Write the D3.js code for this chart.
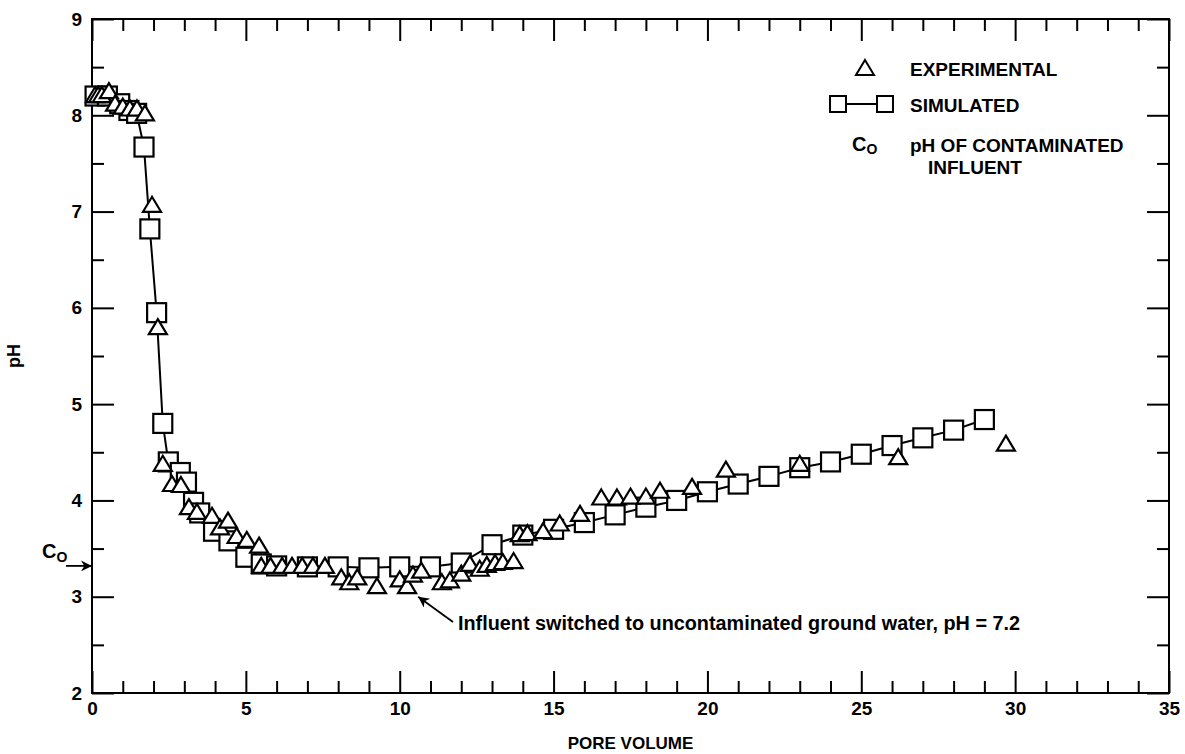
<!DOCTYPE html>
<html>
<head>
<meta charset="utf-8">
<script src="https://cdn.jsdelivr.net/npm/d3@7"></script>
<style>
  html, body { margin: 0; padding: 0; background: #fff; }
  svg { display: block; }
  text { font-family: "Liberation Sans", Arial, Helvetica, sans-serif; fill: #000; }
</style>
</head>
<body>
<svg id="chart" width="1185" height="754"></svg>
<script>
// Simulated pH versus pore volume (connected squares)
const simulatedPV = [0.1, 0.5, 0.9, 1.2, 1.45, 1.69, 1.88, 2.1, 2.3, 2.48, 2.87, 3.07, 3.3, 3.5, 3.95, 4.45, 5.0, 5.5, 6, 7, 8, 9, 10, 11, 12, 13, 14, 15, 16, 17, 18, 19, 20, 21, 22, 23, 24, 25, 26, 27, 28, 29];
const simulatedPH = [8.2, 8.2, 8.12, 8.05, 8.02, 7.67, 6.82, 5.95, 4.8, 4.4, 4.29, 4.19, 3.98, 3.87, 3.68, 3.58, 3.41, 3.34, 3.32, 3.31, 3.31, 3.3, 3.31, 3.31, 3.35, 3.54, 3.64, 3.7, 3.77, 3.85, 3.93, 4.0, 4.09, 4.17, 4.25, 4.34, 4.4, 4.48, 4.57, 4.65, 4.73, 4.84];

// Experimental pH versus pore volume (triangles)
const experimentalPV = [0.1, 0.2, 0.32, 0.55, 0.75, 1.0, 1.23, 1.46, 1.72, 1.95, 2.14, 2.3, 2.6, 2.89, 3.15, 3.41, 3.9, 4.16, 4.42, 4.7, 5.03, 5.43, 5.5, 5.8, 6.18, 6.5, 6.83, 7.18, 7.57, 8.1, 8.36, 8.62, 9.26, 10.0, 10.24, 10.43, 10.7, 11.37, 11.63, 12.0, 12.28, 12.6, 12.83, 13.1, 13.35, 13.7, 13.9, 14.15, 14.66, 15.2, 15.86, 16.55, 17.06, 17.5, 18.0, 18.46, 19.5, 20.6, 23.0, 26.2, 29.7];
const experimentalPH = [8.2, 8.2, 8.2, 8.24, 8.11, 8.08, 8.06, 8.06, 8.01, 7.06, 5.79, 4.37, 4.16, 4.15, 3.92, 3.87, 3.83, 3.71, 3.78, 3.62, 3.58, 3.52, 3.31, 3.31, 3.31, 3.31, 3.31, 3.31, 3.31, 3.19, 3.14, 3.19, 3.1, 3.17, 3.1, 3.22, 3.26, 3.14, 3.16, 3.23, 3.33, 3.28, 3.32, 3.34, 3.35, 3.36, 3.64, 3.65, 3.67, 3.75, 3.85, 4.02, 4.02, 4.03, 4.03, 4.09, 4.13, 4.31, 4.37, 4.44, 4.58];

// pH of contaminated influent
const influentPH = 3.32;
// Where the annotation arrow points (pore volume, pH)
const switchPV = 10.6;
const switchPH = 3.0;

// Axis tick values
const xMajorTicks = [0, 5, 10, 15, 20, 25, 30, 35];
const xMinorTicks = d3.range(0, 36, 1).filter(v => v % 5 !== 0);
const yMajorTicks = [2, 3, 4, 5, 6, 7, 8, 9];
const yMinorTicks = [2.5, 3.5, 4.5, 5.5, 6.5, 7.5, 8.5];

const svg = d3.select("#chart");
const plotLeft = 92, plotRight = 1169, plotTop = 19, plotBottom = 693;

const x = d3.scaleLinear().domain([0, 35]).range([plotLeft, plotRight]);
const y = d3.scaleLinear().domain([2, 9]).range([plotBottom, plotTop]);

const MAJOR = 22, MINOR = 12;
const tickFont = "19px";

function styleAxis(g) {
  g.select(".domain").remove();
  g.selectAll(".tick line").attr("stroke", "#000").attr("stroke-width", 2);
  g.selectAll(".tick text").attr("font-size", tickFont).attr("font-weight", "bold").attr("fill", "#000")
    .style("font-family", '"Liberation Sans", Arial, sans-serif');
}

// Bottom axis: labelled major ticks + minor ticks, pointing inward
svg.append("g").attr("transform", `translate(0,${plotBottom})`)
  .call(d3.axisBottom(x).tickValues(xMajorTicks).tickSize(-MAJOR).tickSizeOuter(0).tickPadding(9).tickFormat(d3.format("d")))
  .call(styleAxis);
svg.append("g").attr("transform", `translate(0,${plotBottom})`)
  .call(d3.axisBottom(x).tickValues(xMinorTicks).tickSize(-MINOR).tickSizeOuter(0).tickFormat(""))
  .call(styleAxis);
// Top axis (mirrored ticks)
svg.append("g").attr("transform", `translate(0,${plotTop})`)
  .call(d3.axisTop(x).tickValues(xMajorTicks).tickSize(-MAJOR).tickSizeOuter(0).tickFormat(""))
  .call(styleAxis);
svg.append("g").attr("transform", `translate(0,${plotTop})`)
  .call(d3.axisTop(x).tickValues(xMinorTicks).tickSize(-MINOR).tickSizeOuter(0).tickFormat(""))
  .call(styleAxis);
// Left axis
svg.append("g").attr("transform", `translate(${plotLeft},0)`)
  .call(d3.axisLeft(y).tickValues(yMajorTicks).tickSize(-MAJOR).tickSizeOuter(0).tickPadding(10).tickFormat(d3.format("d")))
  .call(styleAxis);
svg.append("g").attr("transform", `translate(${plotLeft},0)`)
  .call(d3.axisLeft(y).tickValues(yMinorTicks).tickSize(-MINOR).tickSizeOuter(0).tickFormat(""))
  .call(styleAxis);
// Right axis
svg.append("g").attr("transform", `translate(${plotRight},0)`)
  .call(d3.axisRight(y).tickValues(yMajorTicks).tickSize(-MAJOR).tickSizeOuter(0).tickFormat(""))
  .call(styleAxis);
svg.append("g").attr("transform", `translate(${plotRight},0)`)
  .call(d3.axisRight(y).tickValues(yMinorTicks).tickSize(-MINOR).tickSizeOuter(0).tickFormat(""))
  .call(styleAxis);

// Plot frame
svg.append("rect")
  .attr("x", plotLeft).attr("y", plotTop).attr("width", plotRight - plotLeft).attr("height", plotBottom - plotTop)
  .attr("fill", "none").attr("stroke", "#000").attr("stroke-width", 2);

// Axis titles
svg.append("text")
  .attr("x", (plotLeft + plotRight) / 2).attr("y", 749)
  .attr("text-anchor", "middle").attr("font-size", "17px").attr("font-weight", "bold")
  .text("PORE VOLUME");
svg.append("text")
  .attr("transform", `translate(20,${(plotTop + plotBottom) / 2}) rotate(-90)`)
  .attr("text-anchor", "middle").attr("font-size", "18px").attr("font-weight", "bold")
  .text("pH");

// Arrowhead marker
const defs = svg.append("defs");
defs.append("marker")
  .attr("id", "arrow").attr("viewBox", "0 0 10 10")
  .attr("refX", 10).attr("refY", 5)
  .attr("markerWidth", 13).attr("markerHeight", 11)
  .attr("markerUnits", "userSpaceOnUse")
  .attr("orient", "auto")
  .append("path").attr("d", "M0,0 L10,5 L0,10 L3,5 Z").attr("fill", "#000");

// Simulated curve
const simData = simulatedPV.map((v, i) => ({ v, ph: simulatedPH[i] }));
const expData = experimentalPV.map((v, i) => ({ v, ph: experimentalPH[i] }));

svg.append("path")
  .datum(simData)
  .attr("fill", "none").attr("stroke", "#000").attr("stroke-width", 2)
  .attr("d", d3.line().x(d => x(d.v)).y(d => y(d.ph)));

const SQ = 19;
svg.append("g").selectAll("rect")
  .data(simData).join("rect")
  .attr("x", d => x(d.v) - SQ / 2).attr("y", d => y(d.ph) - SQ / 2)
  .attr("width", SQ).attr("height", SQ)
  .attr("fill", "#fff").attr("stroke", "#000").attr("stroke-width", 2.2);

// Experimental triangles
const triangle = (w, h) => `M0,${-h * 0.6} L${w / 2},${h * 0.4} L${-w / 2},${h * 0.4} Z`;
svg.append("g").selectAll("path")
  .data(expData).join("path")
  .attr("transform", d => `translate(${x(d.v)},${y(d.ph)})`)
  .attr("d", triangle(18, 15))
  .attr("fill", "#fff").attr("stroke", "#000").attr("stroke-width", 2.2)
  .attr("stroke-linejoin", "miter");

// Influent pH marker on the left axis
const coY = y(influentPH);
svg.append("line")
  .attr("x1", 66).attr("y1", coY).attr("x2", plotLeft).attr("y2", coY)
  .attr("stroke", "#000").attr("stroke-width", 1.8).attr("marker-end", "url(#arrow)");
const coLabel = svg.append("text").attr("x", 42).attr("y", coY - 8).attr("font-size", "20px").attr("font-weight", "bold");
coLabel.append("tspan").text("C");
coLabel.append("tspan").attr("font-size", "14px").attr("dy", 4).text("O");

// Annotation for the influent switch
const annX = 458, annY = 630;
svg.append("line")
  .attr("x1", annX - 5).attr("y1", annY - 8)
  .attr("x2", x(switchPV)).attr("y2", y(switchPH))
  .attr("stroke", "#000").attr("stroke-width", 1.8).attr("marker-end", "url(#arrow)");
svg.append("text")
  .attr("x", annX).attr("y", annY)
  .attr("font-size", "19.5px").attr("font-weight", "bold")
  .attr("textLength", 562).attr("lengthAdjust", "spacingAndGlyphs")
  .text("Influent switched to uncontaminated ground water, pH = 7.2");

// Legend
const lg = svg.append("g");
lg.append("path")
  .attr("transform", "translate(865,69)")
  .attr("d", triangle(18, 15))
  .attr("fill", "#fff").attr("stroke", "#000").attr("stroke-width", 2);
lg.append("text").attr("x", 910).attr("y", 76).attr("font-size", "19px").attr("font-weight", "bold").text("EXPERIMENTAL");

lg.append("line").attr("x1", 838).attr("y1", 104).attr("x2", 885).attr("y2", 104)
  .attr("stroke", "#000").attr("stroke-width", 2);
[838, 885].forEach(cx => {
  lg.append("rect").attr("x", cx - 8).attr("y", 96).attr("width", 16).attr("height", 16)
    .attr("fill", "#fff").attr("stroke", "#000").attr("stroke-width", 2);
});
lg.append("text").attr("x", 910).attr("y", 112).attr("font-size", "19px").attr("font-weight", "bold").text("SIMULATED");

const lgCo = lg.append("text").attr("x", 852).attr("y", 151).attr("font-size", "20px").attr("font-weight", "bold");
lgCo.append("tspan").text("C");
lgCo.append("tspan").attr("font-size", "14px").attr("dy", 3).text("O");
lg.append("text").attr("x", 910).attr("y", 152).attr("font-size", "19px").attr("font-weight", "bold").text("pH OF CONTAMINATED");
lg.append("text").attr("x", 928).attr("y", 174).attr("font-size", "19px").attr("font-weight", "bold").text("INFLUENT");
</script>
</body>
</html>
